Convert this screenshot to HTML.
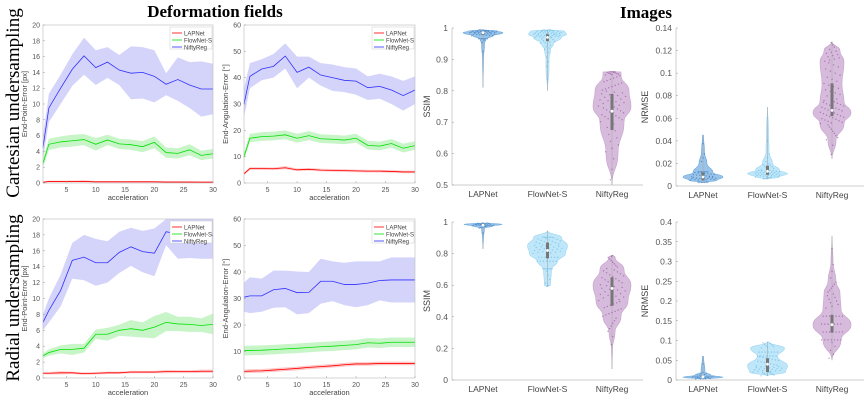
<!DOCTYPE html>
<html><head><meta charset="utf-8"><style>
html,body{margin:0;padding:0;background:#fff;width:864px;height:400px;overflow:hidden}
svg{display:block}
</style></head><body>
<svg id="fig" width="864" height="400" viewBox="0 0 864 400" xmlns="http://www.w3.org/2000/svg" font-family="Liberation Sans, sans-serif">
<text x="215" y="17" text-anchor="middle" font-family="Liberation Serif, serif" font-weight="bold" font-size="17">Deformation fields</text>
<text x="646" y="18" text-anchor="middle" font-family="Liberation Serif, serif" font-weight="bold" font-size="17">Images</text>
<text transform="translate(19,103) rotate(-90)" text-anchor="middle" font-family="Liberation Serif, serif" font-size="19">Cartesian undersampling</text>
<text transform="translate(19,298) rotate(-90)" text-anchor="middle" font-family="Liberation Serif, serif" font-size="19">Radial undersampling</text>
</svg>
<script>
const accel=[1,2,4,6,8,10,12,14,16,18,20,22,24,26,28,30];
const xTicks=[5,10,15,20,25,30];
const seriesNames=["LAPNet","FlowNet-S","NiftyReg"];
// Cartesian EPE
const cEpeLap=[0.1,0.2,0.2,0.2,0.2,0.15,0.15,0.15,0.15,0.15,0.15,0.12,0.12,0.12,0.1,0.1];
const cEpeLapLo=[0.0,0.1,0.1,0.1,0.1,0.05,0.05,0.05,0.05,0.05,0.05,0.03,0.03,0.03,0.02,0.02];
const cEpeLapHi=[0.2,0.3,0.3,0.3,0.35,0.25,0.25,0.25,0.25,0.25,0.25,0.22,0.22,0.22,0.2,0.2];
const cEpeFlow=[2.5,4.9,5.2,5.35,5.5,4.9,5.45,4.95,4.85,4.6,5.15,3.85,3.75,4.2,3.5,3.7];
const cEpeFlowLo=[1.9,4.2,4.5,4.6,4.8,4.1,4.8,4.3,4.2,3.9,4.4,3.2,3.1,3.5,2.9,3.1];
const cEpeFlowHi=[3.1,5.6,5.9,6.1,6.2,5.7,6.1,5.6,5.5,5.3,5.9,4.5,4.4,4.9,4.1,4.3];
const cEpeNifty=[4.5,9.5,12,14.4,16.1,14.6,15.3,14.3,13.9,14.0,13.5,12.5,13.1,12.4,11.9,11.9];
const cEpeNiftyLo=[3,7.7,10,12.3,13.7,12.4,13.3,12.4,10.6,10.7,10.2,11.1,10.4,9.5,8.4,8.7];
const cEpeNiftyHi=[6,11.3,13.7,16.3,18.4,16.8,17.2,16.2,17.3,17.2,16.8,13.9,15.9,15.3,15.4,15.1];
// Cartesian EAE
const cEaeLap=[3.5,5.5,5.5,5.4,5.8,5.0,5.2,4.9,4.8,4.7,4.6,4.5,4.5,4.4,4.2,4.2];
const cEaeLapLo=[3.0,5.0,5.0,4.9,5.2,4.5,4.7,4.4,4.3,4.2,4.1,4.0,4.0,3.9,3.7,3.7];
const cEaeLapHi=[4.0,6.0,6.0,5.9,6.4,5.5,5.7,5.4,5.3,5.2,5.1,5.0,5.0,4.9,4.7,4.7];
const cEaeFlow=[10,17,17.6,17.8,18.3,17,18,16.8,16.6,16.3,17,14.3,14,15,13.2,14.2];
const cEaeFlowLo=[8.5,15.5,16,16.2,16.6,15.3,16.3,15.2,15,14.7,15.3,12.7,12.4,13.4,11.6,12.6];
const cEaeFlowHi=[11.5,18.7,19.3,19.5,20,18.7,19.7,18.5,18.3,18,18.7,16,15.7,16.7,14.9,15.9];
const cEaeNifty=[30,40.5,43.3,44.3,48.2,42,44,41,40,39,38.7,36.2,36.7,35.3,33.2,35.3];
const cEaeNiftyLo=[25,36,39,40,43.5,36,40,37,35,34.5,33.5,31.5,32,30,27.5,30];
const cEaeNiftyHi=[36,45.5,47,49,53,48,48,45.5,45,44,43.5,40.5,41.5,40.5,38.8,40.5];
// Radial EPE
const rEpeLap=[0.6,0.6,0.65,0.65,0.55,0.6,0.65,0.65,0.75,0.75,0.75,0.8,0.8,0.8,0.85,0.85];
const rEpeLapLo=[0.45,0.45,0.45,0.5,0.4,0.45,0.5,0.5,0.6,0.6,0.6,0.6,0.62,0.62,0.65,0.65];
const rEpeLapHi=[0.75,0.75,0.85,0.8,0.7,0.75,0.8,0.8,0.9,0.9,0.9,1.0,0.98,0.98,1.05,1.05];
const rEpeFlow=[2.8,3.2,3.6,3.6,3.75,5.5,5.5,6,6.2,6,6.4,7,6.8,6.75,6.6,6.75];
const rEpeFlowLo=[2.5,2.8,3.1,2.9,3.2,4.9,4.7,5.3,5.2,5.1,5.0,5.9,5.9,5.8,5.8,5.5];
const rEpeFlowHi=[3.1,3.6,4.1,4.3,4.3,6.1,6.3,6.7,7.3,7.0,7.8,8.3,7.7,7.7,7.5,8.1];
const rEpeNifty=[7,8.5,11,14.8,15.2,14.5,14.5,15.8,16.5,15.9,15.7,18.4,18.1,18.1,18.0,17.9];
const rEpeNiftyLo=[6,7,9,12.5,12.3,11.6,12,13.2,14.1,13.3,12.8,16.7,15,15.1,15,15];
const rEpeNiftyHi=[8,10,13,17,18,17.5,17.2,18.4,18.9,18.5,18.8,20.5,20.5,20.5,20.5,20.5];
// Radial EAE
const rEaeLap=[2.5,2.6,2.7,3,3.3,3.6,4,4.3,4.6,5,5.3,5.3,5.5,5.5,5.5,5.5];
const rEaeLapLo=[1.8,1.9,2.0,2.3,2.6,2.9,3.3,3.6,3.9,4.3,4.6,4.6,4.8,4.8,4.8,4.8];
const rEaeLapHi=[3.2,3.3,3.4,3.7,4.0,4.3,4.7,5.0,5.3,5.7,6.0,6.0,6.2,6.2,6.2,6.2];
const rEaeFlow=[10.3,10.4,10.5,10.7,11,11.2,11.5,11.8,12,12.3,12.6,13.3,13.1,13.5,13.5,13.5];
const rEaeFlowLo=[8.5,8.6,8.7,8.9,9.2,9.4,9.7,10,10.2,10.5,10.8,11.5,11.3,11.7,11.7,11.7];
const rEaeFlowHi=[12.1,12.2,12.3,12.5,12.8,13,13.3,13.6,13.8,14.1,14.4,15.1,14.9,15.3,15.3,15.3];
const rEaeNifty=[30.5,31,31,33.3,33.8,32.2,32.3,36.5,36.5,35.3,35.3,35.8,36.8,37,37,37];
const rEaeNiftyLo=[25,24.5,25,26.5,26.7,24,24.5,28,29,27.5,26.7,27.5,29.3,28.5,28.5,28.5];
const rEaeNiftyHi=[36,38,37.5,40.5,40.5,40.2,40,45,44,43.5,44,44,44,45.5,45.5,45.5];

const svg=document.getElementById('fig');
const NS='http://www.w3.org/2000/svg';
function mk(tag,attrs,parent){const e=document.createElementNS(NS,tag);for(const k in attrs)e.setAttribute(k,attrs[k]);(parent||svg).appendChild(e);return e;}

function linePlot(name,box,ymax,yStep,ylabel,series){
  const g=mk('g',{});
  
  
  const {x0,x1,y0,y1}=box;
  const sx=v=>x0+(v-1)/(30-1)*(x1-x0);
  const sy=v=>y1-Math.min(v,ymax)/ymax*(y1-y0);
  const cols={LAPNet:['#ff0000','#ffc8c8'],"FlowNet-S":['#00e000','#c8f5c8'],NiftyReg:['#3030ff','#d4d4fb']};
  series.forEach(s=>{
    let d='M'+accel.map((a,i)=>sx(a)+','+sy(s.hi[i])).join('L')+'L'+accel.slice().reverse().map((a,j)=>{const i=accel.length-1-j;return sx(a)+','+sy(s.lo[i]);}).join('L')+'Z';
    const p=mk('path',{d:d,fill:cols[s.n][1],stroke:'none'},g);
    
    
  });
  series.forEach(s=>{
    const p=mk('path',{d:'M'+accel.map((a,i)=>sx(a)+','+sy(s.m[i])).join('L'),fill:'none',stroke:cols[s.n][0],'stroke-width':0.8},g);
    
    
  });
  mk('rect',{x:x0,y:y0,width:x1-x0,height:y1-y0,fill:'none',stroke:'#bbb','stroke-width':0.6},g);
  for(let v=0;v<=ymax;v+=yStep){
    mk('line',{x1:x0,x2:x0+2,y1:sy(v),y2:sy(v),stroke:'#999','stroke-width':0.5},g);
    const t=mk('text',{x:x0-3,y:sy(v)+2.5,'text-anchor':'end','font-size':7,fill:'#555'},g);t.textContent=v;
    
    
  }
  xTicks.forEach(v=>{
    mk('line',{x1:sx(v),x2:sx(v),y1:y1,y2:y1-2,stroke:'#999','stroke-width':0.5},g);
    const t=mk('text',{x:sx(v),y:y1+9,'text-anchor':'middle','font-size':7,fill:'#555'},g);t.textContent=v;
    
    
  });
  const xl=mk('text',{x:(x0+x1)/2,y:y1+17,'text-anchor':'middle','font-size':7.5,fill:'#444'},g);xl.textContent='acceleration';
  
  
  const yl=mk('text',{transform:'translate('+(x0-16)+','+((y0+y1)/2)+') rotate(-90)','text-anchor':'middle','font-size':7.5,fill:'#444'},g);yl.textContent=ylabel;
  
  
  const lg=mk('g',{},g);
  
  
  mk('rect',{x:x1-43,y:y0+2,width:42,height:22,fill:'#fff',stroke:'#ccc','stroke-width':0.5},lg);
  seriesNames.forEach((n,i)=>{
    const yy=y0+8+i*7;
    mk('line',{x1:x1-41,x2:x1-31,y1:yy,y2:yy,stroke:cols[n][0],'stroke-width':0.8},lg);
    const t=mk('text',{x:x1-29,y:yy+2.3,'font-size':6,fill:'#444'},lg);t.textContent=n;
    
    
  });
}
linePlot('cartesian-epe-chart',{x0:43,x1:213,y0:25,y1:183},20,2,'End-Point-Error [px]',[
 {n:'NiftyReg',m:cEpeNifty,lo:cEpeNiftyLo,hi:cEpeNiftyHi},{n:'FlowNet-S',m:cEpeFlow,lo:cEpeFlowLo,hi:cEpeFlowHi},{n:'LAPNet',m:cEpeLap,lo:cEpeLapLo,hi:cEpeLapHi}]);
linePlot('cartesian-eae-chart',{x0:244,x1:415,y0:25,y1:183},60,10,'End-Angulation-Error [°]',[
 {n:'NiftyReg',m:cEaeNifty,lo:cEaeNiftyLo,hi:cEaeNiftyHi},{n:'FlowNet-S',m:cEaeFlow,lo:cEaeFlowLo,hi:cEaeFlowHi},{n:'LAPNet',m:cEaeLap,lo:cEaeLapLo,hi:cEaeLapHi}]);
linePlot('radial-epe-chart',{x0:43,x1:213,y0:219,y1:378},20,2,'End-Point-Error [px]',[
 {n:'NiftyReg',m:rEpeNifty,lo:rEpeNiftyLo,hi:rEpeNiftyHi},{n:'FlowNet-S',m:rEpeFlow,lo:rEpeFlowLo,hi:rEpeFlowHi},{n:'LAPNet',m:rEpeLap,lo:rEpeLapLo,hi:rEpeLapHi}]);
linePlot('radial-eae-chart',{x0:244,x1:415,y0:219,y1:378},60,10,'End-Angulation-Error [°]',[
 {n:'NiftyReg',m:rEaeNifty,lo:rEaeNiftyLo,hi:rEaeNiftyHi},{n:'FlowNet-S',m:rEaeFlow,lo:rEaeFlowLo,hi:rEaeFlowHi},{n:'LAPNet',m:rEaeLap,lo:rEaeLapLo,hi:rEaeLapHi}]);

// Violin data: profile values, densities, median, q1, q3
const methods=["LAPNet","FlowNet-S","NiftyReg"];
const cSsimVals=[[0.81,0.9,0.95,0.965,0.975,0.985,0.99,0.995],[0.80,0.87,0.9,0.93,0.95,0.97,0.98,0.99,0.995],[0.5,0.6,0.7,0.75,0.8,0.85,0.86,0.861]];
const cSsimDens=[[0,0.5,1.5,3,10,20,15,0],[0,1.5,1.5,3,6,14,19,17,0],[0,6,12,19,17,9,9,0]];
const cSsimStats=[[0.985,0.978,0.99],[0.97,0.958,0.98],[0.735,0.675,0.79]];
const cNrmseVals=[[0.003,0.005,0.008,0.012,0.02,0.03,0.045],[0.006,0.008,0.011,0.014,0.02,0.03,0.05,0.07],[0.024,0.04,0.055,0.065,0.075,0.09,0.11,0.12,0.128]];
const cNrmseDens=[[0,14,20,10,4,1.5,0.5],[0,12,20,12,5,1.5,1,0],[0,4,12,19,12,10,12,8,0]];
const cNrmseStats=[[0.008,0.005,0.012],[0.013,0.01,0.018],[0.067,0.062,0.091]];
const rSsimVals=[[0.83,0.9,0.96,0.975,0.985,0.995],[0.59,0.6,0.7,0.75,0.8,0.85,0.9,0.945],[0.07,0.2,0.3,0.4,0.5,0.6,0.7,0.78,0.79]];
const rSsimDens=[[0,0.5,1.5,10,19,0],[0,3,4,10,18,20,14,0],[0,0.5,3,9,16,19,12,3,0]];
const rSsimStats=[[0.98,0.975,0.99],[0.82,0.77,0.87],[0.58,0.47,0.65]];
const rNrmseVals=[[0.002,0.007,0.012,0.02,0.06],[0.01,0.02,0.035,0.06,0.08,0.097],[0.05,0.1,0.14,0.18,0.22,0.25,0.3,0.365]];
const rNrmseDens=[[0,20,8,2,0.5],[0,18,20,10,17,0],[0,9,19,9,8,4,1,0]];
const rNrmseStats=[[0.008,0.005,0.011],[0.04,0.02,0.055],[0.14,0.12,0.165]];

function violinPlot(name,box,ymin,ymax,ticks,ylabel,vals,dens,stats){
  const g=mk('g',{});
  
  
  const {x0,x1,y0,y1,off,sp}=box;
  const sy=v=>y1-(v-ymin)/(ymax-ymin)*(y1-y0);
  const cx=i=>x0+off+sp*i;
  const fills=['rgba(70,145,215,0.55)','rgba(150,215,245,0.6)','rgba(175,120,185,0.5)'];
  const strokes=['#6aa8dc','#9fd6f2','#c7a3cc'];
  const dots=['#2a70b8','#5ab8e8','#8a4a96'];
  methods.forEach((m,i)=>{
    const v=vals[i],d=dens[i],c=cx(i);
    let right=v.map((y,k)=>[c+d[k],sy(y)]);
    let left=v.map((y,k)=>[c-d[k],sy(y)]).reverse();
    const pts=right.concat(left);
    let path='M'+pts[0].join(',');
    for(let k=1;k<pts.length;k++){const p0=pts[k-1],p1=pts[k];const my=(p0[1]+p1[1])/2;path+='C'+p0[0]+','+my+' '+p1[0]+','+my+' '+p1[0]+','+p1[1];}
    path+='Z';
    const p=mk('path',{d:path,fill:fills[i],stroke:strokes[i],'stroke-width':0.6},g);
    
    
    mk('line',{x1:c,x2:c,y1:sy(v[0]),y2:sy(v[v.length-1]),stroke:'#aaa','stroke-width':0.6},g);
    for(let k=0;k<v.length-1;k++){
      const n=Math.round((d[k]+d[k+1])/2);
      for(let j=0;j<n;j++){
        const fr=(j+0.5)/n;
        const yy=sy(v[k]+(v[k+1]-v[k])*((j*7)%n+0.5)/n);
        const ww=(d[k]+d[k+1])/2*0.8;
        mk('circle',{cx:c+(fr*2-1)*ww,cy:yy,r:0.7,fill:dots[i],opacity:0.6},g);
      }
    }
    const st=stats[i];
    const b=mk('rect',{x:c-1.5,y:sy(st[2]),width:3,height:Math.max(1,sy(st[1])-sy(st[2])),fill:'#777'},g);
    
    
    mk('circle',{cx:c,cy:sy(st[0]),r:1.4,fill:'#fff'},g);
    const t=mk('text',{x:c,y:y1+12,'text-anchor':'middle','font-size':8.5,fill:'#444'},g);t.textContent=m;
    
    
  });
  mk('line',{x1:x0,x2:x0,y1:y0,y2:y1,stroke:'#bbb','stroke-width':0.7},g);
  mk('line',{x1:x0,x2:x1,y1:y1,y2:y1,stroke:'#bbb','stroke-width':0.7},g);
  ticks.forEach(v=>{
    mk('line',{x1:x0,x2:x0+2,y1:sy(v),y2:sy(v),stroke:'#999','stroke-width':0.5},g);
    const t=mk('text',{x:x0-4,y:sy(v)+3,'text-anchor':'end','font-size':8.5,fill:'#555'},g);t.textContent=v;
    
    
  });
  const lx=ylabel==='SSIM'?x0-22:x0-28;
  const yl=mk('text',{transform:'translate('+lx+','+((y0+y1)/2)+') rotate(-90)','text-anchor':'middle','font-size':9,fill:'#444'},g);
  yl.textContent=ylabel;
  
  
}
violinPlot('cartesian-ssim-violin',{x0:452,x1:643,y0:28,y1:185,off:31,sp:64.5},0.5,1,[0.5,0.6,0.7,0.8,0.9,1],'SSIM',cSsimVals,cSsimDens,cSsimStats);
violinPlot('cartesian-nrmse-violin',{x0:676,x1:864,y0:28,y1:186,off:27,sp:64.5},0,0.14,[0,0.02,0.04,0.06,0.08,0.1,0.12,0.14],'NRMSE',cNrmseVals,cNrmseDens,cNrmseStats);
violinPlot('radial-ssim-violin',{x0:452,x1:643,y0:222,y1:380,off:31,sp:64.5},0,1,[0,0.2,0.4,0.6,0.8,1],'SSIM',rSsimVals,rSsimDens,rSsimStats);
violinPlot('radial-nrmse-violin',{x0:676,x1:864,y0:222,y1:380,off:27,sp:64.5},0,0.4,[0,0.05,0.1,0.15,0.2,0.25,0.3,0.35,0.4],'NRMSE',rNrmseVals,rNrmseDens,rNrmseStats);
</script>
</body></html>
